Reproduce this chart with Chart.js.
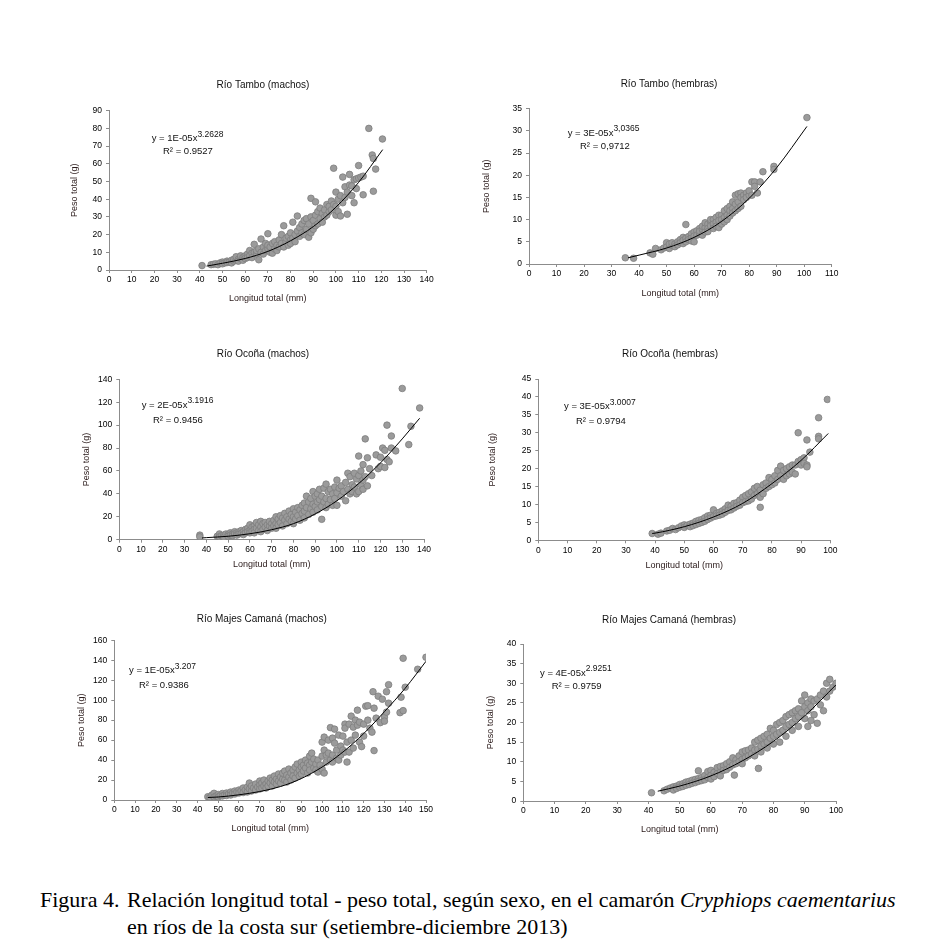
<!DOCTYPE html>
<html><head><meta charset="utf-8">
<script src="https://cdn.jsdelivr.net/npm/chart.js@4.4.0/dist/chart.umd.min.js"></script>
<style>
html,body{margin:0;padding:0;background:#fff;}
body{width:928px;height:950px;position:relative;overflow:hidden;}
canvas{position:absolute;}
.cap{position:absolute;font-family:"Liberation Serif","Times New Roman",serif;font-size:22px;line-height:27px;color:#000;white-space:nowrap;}
</style></head><body>
<div class="cap" style="left:40px;top:886px;">Figura 4.</div>
<div class="cap" style="left:127px;top:886px;">Relación longitud total - peso total, según sexo, en el camarón <i>Cryphiops caementarius</i><br>en ríos de la costa sur (setiembre-diciembre 2013)</div>
<script>
// ---------- text ----------
const panelTitles = ["Río Tambo (machos)", "Río Tambo (hembras)", "Río Ocoña (machos)", "Río Ocoña (hembras)", "Río Majes Camaná (machos)", "Río Majes Camaná (hembras)"];
const eqBase = ["y = 1E-05x", "y = 3E-05x", "y = 2E-05x", "y = 3E-05x", "y = 1E-05x", "y = 4E-05x"];
const eqExp = ["3.2628", "3,0365", "3.1916", "3.0007", "3.207", "2.9251"];
const eqR2 = ["R² = 0.9527", "R² = 0,9712", "R² = 0.9456", "R² = 0.9794", "R² = 0.9386", "R² = 0.9759"];
const xTitle = "Longitud total (mm)";
const yTitle = "Peso total (g)";

// ---------- axes (tick ranges) ----------
const xMax = [140, 110, 140, 100, 150, 100];
const xStep = [10, 10, 10, 10, 10, 10];
const yMax = [90, 35, 140, 45, 160, 40];
const yStep = [10, 5, 20, 5, 20, 5];

// ---------- data: [longitud total (mm), peso total (g)] ----------
const tamboMachos = [[41,2.5],[45,3],[46,3.2],[47,3.5],[48,3],[49,4],[50,4.5],[50,3.5],[51,4],[52,5],[52,4.2],[53,4.5],[54,5.5],[54,4],[55,5],[55,6],[56,5.5],[56,7.5],[57,6],[57,5],[58,6.5],[58,8],[59,7],[59,5.5],[60,8],[60,6.5],[61,9],[61,7],[62,11],[62,8],[63,9.5],[63,7],[64,14.5],[64,10],[65,9],[65,11],[66,5.8],[66,12],[67,17.5],[67,10],[68,13],[68,9],[69,11],[69,15],[70,20.5],[70,12],[70,14],[71,10],[71,13],[72,9.5],[72,15],[73,12],[73,16],[74,14],[74,11],[75,13],[75,17],[76,15],[76,20],[77,25],[77,13],[78,16],[78,18],[79,14],[79,19],[80,17],[80,21],[80,15],[81,18],[81,27],[82,16],[82,20],[83,22],[83,30.5],[84,19],[84,24],[85,21],[85,26],[86,20],[86,28],[87,23],[87,29],[88,18.5],[88,26],[89,40.5],[89,30],[89,21],[90,28],[90,23],[91,38.5],[91,31],[91,25],[92,26],[92,33],[93,29],[93,35],[94,27],[94,32],[95,34],[95,30],[96,31],[96,37],[97,33],[97,36],[98,39],[98,34],[99,57.5],[99,37],[100,44],[100,36],[100,31],[101,40],[101,33],[102,42],[102,30.5],[103,52.5],[103,38],[104,47],[104,41],[105,31.5],[105,44],[106,54],[106,48],[107,47.5],[107,42],[108,38],[108,51],[109,51.5],[109,46],[110,59],[110,52],[111,52.5],[112,42.5],[112,53],[114.5,80],[116,65],[116.5,63],[116.5,44.5],[117.5,57],[120.5,74]];
const tamboMachosTrend = [[43,2.2],[50,3.8],[60,6.5],[70,10.5],[80,16.5],[90,24.5],[100,35.5],[110,49.5],[120.6,68]];

const tamboHembras = [[35,1.4],[38,1.3],[44,2.5],[45,2.2],[46,3.5],[48,3.2],[49,3.6],[50,4.8],[50,3.8],[51,3.5],[51,4.5],[52,4.2],[52,4.8],[53,4.5],[53,3.9],[54,5],[54,4.3],[55,5.5],[55,4.8],[56,6],[56,4.6],[56,5.3],[57,8.9],[57,5.8],[57,5],[58,6.2],[58,5.5],[59,6.8],[59,5.8],[59,5.2],[60,7.2],[60,6.3],[60,5],[61,7.5],[61,6.5],[62,8],[62,6.8],[62,7.4],[63,7.8],[63,6.5],[63,8.5],[64,8.2],[64,7.2],[64,9.3],[65,9],[65,8],[65,7.3],[66,9.5],[66,8.6],[66,10],[67,10],[67,9],[67,8],[68,10.5],[68,9.4],[68,8.5],[69,11],[69,9.8],[69,8.2],[70,11],[70,10],[70,9],[71,12],[71,10.5],[71,9.5],[72,12.5],[72,11],[72,10],[73,13],[73,12],[73,10.8],[74,14],[74,12.5],[74,11.5],[75,15.5],[75,13.5],[75,12],[76,15.8],[76,14],[76,12.5],[77,16],[77,15],[77,13],[78,15.5],[78,14.5],[79,16],[79,15],[80,15.5],[80,16.5],[81,18.5],[81,15.5],[82,18.5],[82,17.5],[83,16],[84,18.5],[85,20.8],[89,22],[89,21.3],[101,33]];
const tamboHembrasTrend = [[36,1.4],[40,2],[50,3.6],[60,6],[70,9.6],[80,14.8],[90,21.7],[101,31]];

const ocoMachos = [[37,4],[37,2.5],[45,3],[46,5],[46,2.5],[47,3.5],[48,4],[48,2],[49,5],[50,4.5],[50,3],[51,6],[51,4],[52,5],[52,3.5],[53,7],[53,5],[54,6],[54,4],[55,7],[55,5],[56,8],[56,5.5],[57,7],[57,4.5],[58,9],[58,6],[59,10],[59,7],[60,13],[60,8],[60,6],[61,11],[61,7.5],[62,12],[62,9],[62,6],[63,15],[63,10],[64,13],[64,8],[65,16],[65,11],[65,7],[66,14],[66,9],[67,15],[67,11],[68,13],[68,8],[69,12],[69,16],[70,14],[70,10],[71,17],[71,12],[72,20],[72,14],[72,10],[73,18],[73,13],[74,21],[74,15],[75,19],[75,12],[76,23],[76,17],[77,20],[77,14],[78,25],[78,18],[79,22],[79,16],[80,27],[80,20],[80,14],[81,24],[81,18],[82,28],[82,21],[83,26],[83,17],[84,30],[84,23],[85,32],[85,25],[85,19],[86,38],[86,28],[87,33],[87,22],[88,36],[88,27],[89,42],[89,31],[89,24],[90,38],[90,29],[91,40],[91,33],[91,26],[92,44],[92,35],[93,17.8],[93,38],[93,29],[94,45],[94,33],[95,48.5],[95,36],[95,28],[96,42],[96,31],[97,44],[97,35],[98,40],[98,30],[99,46],[99,36],[100,52],[100,41],[100,30],[101,45],[102,38],[102,47],[103,42],[104,34],[104,50],[105,58],[105,44],[106,55],[106,40],[107,48],[107,42],[108,58],[108,46],[109,53],[109,40],[110,73],[110,56],[110,42],[111,60],[111,48],[112,65.5],[112,52],[112,44],[113,88],[113,55],[114,71.5],[114,47],[115,62],[116,56],[118,74],[119,62],[120,72],[120,64],[121,80],[122,78],[122,63],[123,100],[123,70],[124,68],[125,90.5],[125,80],[127,77.5],[133,83],[130,132],[134,99],[138,115]];
const ocoMachosTrend = [[38,1.5],[40,1.8],[50,3],[60,5.2],[70,8.7],[80,14],[90,22.5],[100,34],[110,49],[120,67],[130,88],[138,106]];

const ocoHembras = [[39,1.9],[41,1.7],[42,2],[44,2.6],[45,2.8],[46,3.3],[47,3],[48,3.5],[49,4],[50,4.3],[50,3.6],[51,4.2],[52,4.5],[52,3.8],[53,4.8],[53,4.1],[54,5.3],[54,4.4],[55,5.6],[55,4.7],[56,5.8],[56,5],[57,6.3],[57,5.3],[58,6.8],[58,5.8],[59,7],[59,6.2],[60,8.5],[60,6.6],[61,7.5],[61,6.8],[62,7.8],[62,7],[63,8.2],[63,7.3],[64,8.8],[64,7.8],[65,9.8],[65,8.3],[66,9.5],[66,8.5],[67,10.3],[67,9],[68,10.5],[68,9.5],[69,11.2],[69,9.8],[70,12],[70,10.5],[71,12.5],[71,10.8],[72,13],[72,11],[73,13.5],[73,11.5],[74,14.5],[74,12.5],[75,15],[75,13],[76,9.2],[76,14],[76,12],[77,15.5],[77,13],[78,16],[78,14.5],[79,17.5],[79,15],[80,17],[80,15.5],[81,18],[81,16],[82,19.5],[82,17],[83,20.7],[83,18],[84,19.5],[84,17],[85,20],[85,18],[86,20.5],[86,18.5],[87,21],[87,19],[88,18.5],[88,21],[89,30],[89,22],[90,22.5],[90,21],[91,23],[91,21.5],[92,28],[92,21],[92,20.5],[93,24.6],[96,34.2],[96,29],[96,28.3],[99,39.3]];
const ocoHembrasTrend = [[39,1.9],[40,2.0],[50,3.8],[60,6.5],[70,10.3],[80,15.8],[90,22.3],[99.3,29.8]];

const majesMachos = [[45,3.3],[46,2.5],[47,5],[48,6.7],[48,3],[49,4],[50,5.5],[50,3],[51,4.5],[52,6.5],[52,4],[53,5],[54,7],[54,4.5],[55,6],[56,8],[56,5],[57,7],[58,9],[58,6],[59,8],[60,10],[60,7],[61,9],[62,12],[62,7.5],[63,10],[64,13],[64,8],[65,17],[65,11],[66,9],[66,14],[67,12],[68,16],[68,10],[69,13],[70,19],[70,15],[70,11],[71,17],[71,12],[72,20],[72,14],[73,16],[73,12],[74,19],[74,14],[75,22],[75,17],[76,20],[76,14],[77,24],[77,18],[78,21],[78,16],[79,26],[79,19],[80,23],[80,17],[81,21],[81,27],[82,29],[82,20],[83,25],[83,18],[84,31],[84,23],[85,27],[85,20],[86,30],[86,24],[87,33],[87,22],[88,36],[88,27],[89,30],[89,24],[90,38],[90,33],[90,26],[91,35],[91,29],[92,40],[92,32],[93,37],[93,27],[94,44],[94,35],[94,30],[95,47],[95,38],[96,41],[96,32],[97,36],[97,30],[98,40],[98,28],[99,35],[100,58],[100,44],[100,31],[101,63],[101,50],[101,27],[102,45],[102,38],[103,60],[103,47],[104,72.5],[104,40],[105,62],[105,45],[105,38],[106,71],[106,57],[107,50],[107,42],[108,65],[108,40],[109,54],[109,45],[110,64],[110,50],[111,76],[111,72],[111,48],[112,58],[112,38],[113,76],[113,48],[114,84],[114,60],[115,73],[115,52],[116,80],[116,65],[117,90],[117,75],[118,78],[118,58],[119,53.5],[120,76],[120,64],[121,94],[122,94.5],[122,80],[123,72],[124,68],[124.5,108.5],[125,92],[125,49.5],[126,82],[127,104],[128,77.5],[129,101],[130,83],[130,79],[131,108.5],[131,88],[132,115.5],[132,97],[137.5,87.5],[138,103],[139,89.5],[139,142],[140,113],[146,131],[150,143]];
const majesMachosTrend = [[45,2.5],[50,3],[60,5.2],[70,8.5],[80,13.5],[90,21.5],[100,33],[110,48],[120,66.5],[130,88.5],[140,112],[150,139]];

const majesHembras = [[41,2.1],[45,2.6],[46,3],[47,3.3],[48,3.6],[48,2.8],[49,3.8],[49,3.2],[50,4.2],[50,3.5],[51,4.4],[51,3.7],[52,4.8],[52,4],[53,5],[53,4.2],[54,5.3],[54,4.5],[55,5.5],[55,4.7],[56,7.7],[56,5.7],[56,5],[57,6],[57,5.2],[58,6.5],[58,5.4],[59,7.5],[59,6],[60,7.8],[60,6.5],[60,5.6],[61,7.3],[61,6.2],[62,8.5],[62,7],[63,8.8],[63,7.3],[63,6.4],[64,9],[64,7.8],[65,9.5],[65,8],[66,10],[66,8.6],[67,11],[67,9.2],[67.5,6.6],[68,10.5],[68,9.5],[69,11.5],[69,10],[70,12.5],[70,10.6],[70,9.5],[71,12.8],[71,11],[72,13],[72,11.5],[73,13.5],[73,12],[74,15],[74,13],[74,11.5],[75,15.5],[75,13.2],[75.2,8.3],[76,16],[76,14],[76,12.5],[77,16.5],[77,14.5],[78,17],[78,15],[78,13.5],[79,18.5],[79,16],[80,18],[80,16.5],[80,14.5],[81,19.5],[81,17],[82,20],[82,17.5],[82,15],[83,20.5],[83,18],[84,21.5],[84,19],[84,16.5],[85,22],[85,19.5],[86,22.5],[86,20],[86,18],[87,23],[87,21],[88,23.5],[88,21.5],[88,19],[89,25.5],[89,22.5],[90,27],[90,24],[90,21],[91,25],[91,23],[91,19],[92,26],[92,24],[92,20.5],[93,25.5],[93,22],[94,19.8],[94,26],[95,27],[95,24.5],[96,28],[96,23],[97,30],[97,26.5],[98,31],[98,28],[99,29],[100,30]];
const majesHembrasTrend = [[43,2.5],[50,3.8],[60,6.4],[70,10.2],[80,15.2],[90,21.7],[100,29.6]];

const pointSets = [tamboMachos, tamboHembras, ocoMachos, ocoHembras, majesMachos, majesHembras];
const trendSets = [tamboMachosTrend, tamboHembrasTrend, ocoMachosTrend, ocoHembrasTrend, majesMachosTrend, majesHembrasTrend];

// ---------- page layout (pixels on the page) ----------
const layout = [
  {ax:109,  rx:426.7, ty:110.7, by:270,   tx:263,   tyy:85,  xl:299, yl:75,    ex:151.7, ey:138.7, r2x:163,   r2y:151.7},
  {ax:529,  rx:831.7, ty:108.7, by:264,   tx:669,   tyy:84,  xl:294, yl:486.7, ex:567.7, ey:133,   r2x:580,   r2y:146.7},
  {ax:119.3,rx:424,   ty:379.3, by:539.7, tx:263,   tyy:354, xl:565, yl:86.7,  ex:141.7, ey:405,   r2x:153,   r2y:420},
  {ax:538.3,rx:830.3, ty:379,   by:540.3, tx:670,   tyy:354, xl:566, yl:493,   ex:564,   ey:406.7, r2x:576,   r2y:421},
  {ax:114.3,rx:426,   ty:640.3, by:800,   tx:261.7, tyy:619, xl:829, yl:81.7,  ex:129,   ey:670.7, r2x:139,   r2y:685},
  {ax:523.3,rx:836,   ty:644,   by:801,   tx:669,   tyy:620, xl:830, yl:490.7, ex:540,   ey:673,   r2x:551.7, r2y:686.7}
];

const FONT = '"Liberation Sans", Arial, sans-serif';
const AXIS_COLOR = '#8c8c8c';

const textPlugin = {
  id: 'paneltext',
  afterDraw(chart, args, o) {
    const ctx = chart.ctx;
    ctx.save();
    ctx.fillStyle = '#111';
    ctx.textBaseline = 'middle';
    ctx.font = '10px ' + FONT;
    ctx.textAlign = 'center';
    ctx.fillText(o.title, o.L.tx - o.cl, o.L.tyy - o.ct);
    ctx.textAlign = 'left';
    ctx.font = '9.5px ' + FONT;
    ctx.fillText(o.eq, o.L.ex - o.cl, o.L.ey - o.ct);
    const w = ctx.measureText(o.eq).width;
    ctx.font = '8.5px ' + FONT;
    ctx.fillText(o.exp, o.L.ex - o.cl + w, o.L.ey - o.ct - 4);
    ctx.font = '9.5px ' + FONT;
    ctx.fillText(o.r2, o.L.r2x - o.cl, o.L.r2y - o.ct);
    ctx.restore();
  }
};

function build(i) {
  const L = layout[i];
  const padL = 60, padT = 40, padR = 20, padB = 45;
  const cl = Math.floor(L.ax) - padL;
  const ct = Math.floor(L.ty) - padT;
  const cw = Math.ceil(L.rx - cl + padR);
  const ch = Math.ceil(L.by - ct + padB);
  const cv = document.createElement('canvas');
  cv.style.left = cl + 'px'; cv.style.top = ct + 'px';
  cv.style.width = cw + 'px'; cv.style.height = ch + 'px';
  cv.width = cw; cv.height = ch;
  document.body.appendChild(cv);
  const tfs = 9, lh = tfs * 1.2;
  const xAxisH = ch - (L.by - ct);
  const yPadTop = (L.yl - cl) - (L.ax - Math.floor(L.ax)) - lh / 2;
  const xPadBottom = ch - (L.xl - ct) - lh / 2;
  new Chart(cv, {
    type: 'scatter',
    data: {
      datasets: [
        {
          type: 'line',
          data: trendSets[i].map(p => ({x: p[0], y: p[1]})),
          borderColor: '#000', borderWidth: 1, pointRadius: 0,
          cubicInterpolationMode: 'monotone', fill: false, order: 0
        },
        {
          data: pointSets[i].map(p => ({x: p[0], y: p[1]})),
          backgroundColor: '#9b9b9b', borderColor: '#7d7d7d', borderWidth: 0.8,
          pointRadius: 3.3, order: 1
        }
      ]
    },
    options: {
      responsive: false, animation: false, events: [],
      devicePixelRatio: 1,
      layout: { padding: { left: L.ax - Math.floor(L.ax), top: L.ty - ct, right: cw - (L.rx - cl), bottom: 0 } },
      plugins: {
        legend: { display: false }, tooltip: { enabled: false }, title: { display: false },
        paneltext: { L, cl, ct, title: panelTitles[i], eq: eqBase[i], exp: eqExp[i], r2: eqR2[i] }
      },
      scales: {
        x: {
          type: 'linear', min: 0, max: xMax[i],
          afterFit: s => { s.height = xAxisH; },
          ticks: { stepSize: xStep[i], autoSkip: false, maxRotation: 0, color: '#000', font: { family: FONT, size: 8.5 }, padding: 2 },
          grid: { drawOnChartArea: false, drawTicks: true, tickLength: 3, color: AXIS_COLOR },
          border: { display: true, color: AXIS_COLOR, width: 1 },
          title: { display: true, text: xTitle, color: '#2a1a1a', font: { family: FONT, size: tfs }, padding: { top: 0, bottom: xPadBottom } }
        },
        y: {
          type: 'linear', min: 0, max: yMax[i],
          afterFit: s => { s.width = padL; },
          ticks: { stepSize: yStep[i], autoSkip: false, color: '#000', font: { family: FONT, size: 8.5 }, padding: 4 },
          grid: { drawOnChartArea: false, drawTicks: true, tickLength: 3, color: AXIS_COLOR },
          border: { display: true, color: AXIS_COLOR, width: 1 },
          title: { display: true, text: yTitle, color: '#2a1a1a', font: { family: FONT, size: tfs }, padding: { top: yPadTop, bottom: 0 } }
        }
      }
    },
    plugins: [textPlugin]
  });
}
for (let i = 0; i < 6; i++) build(i);
</script>
</body></html>
